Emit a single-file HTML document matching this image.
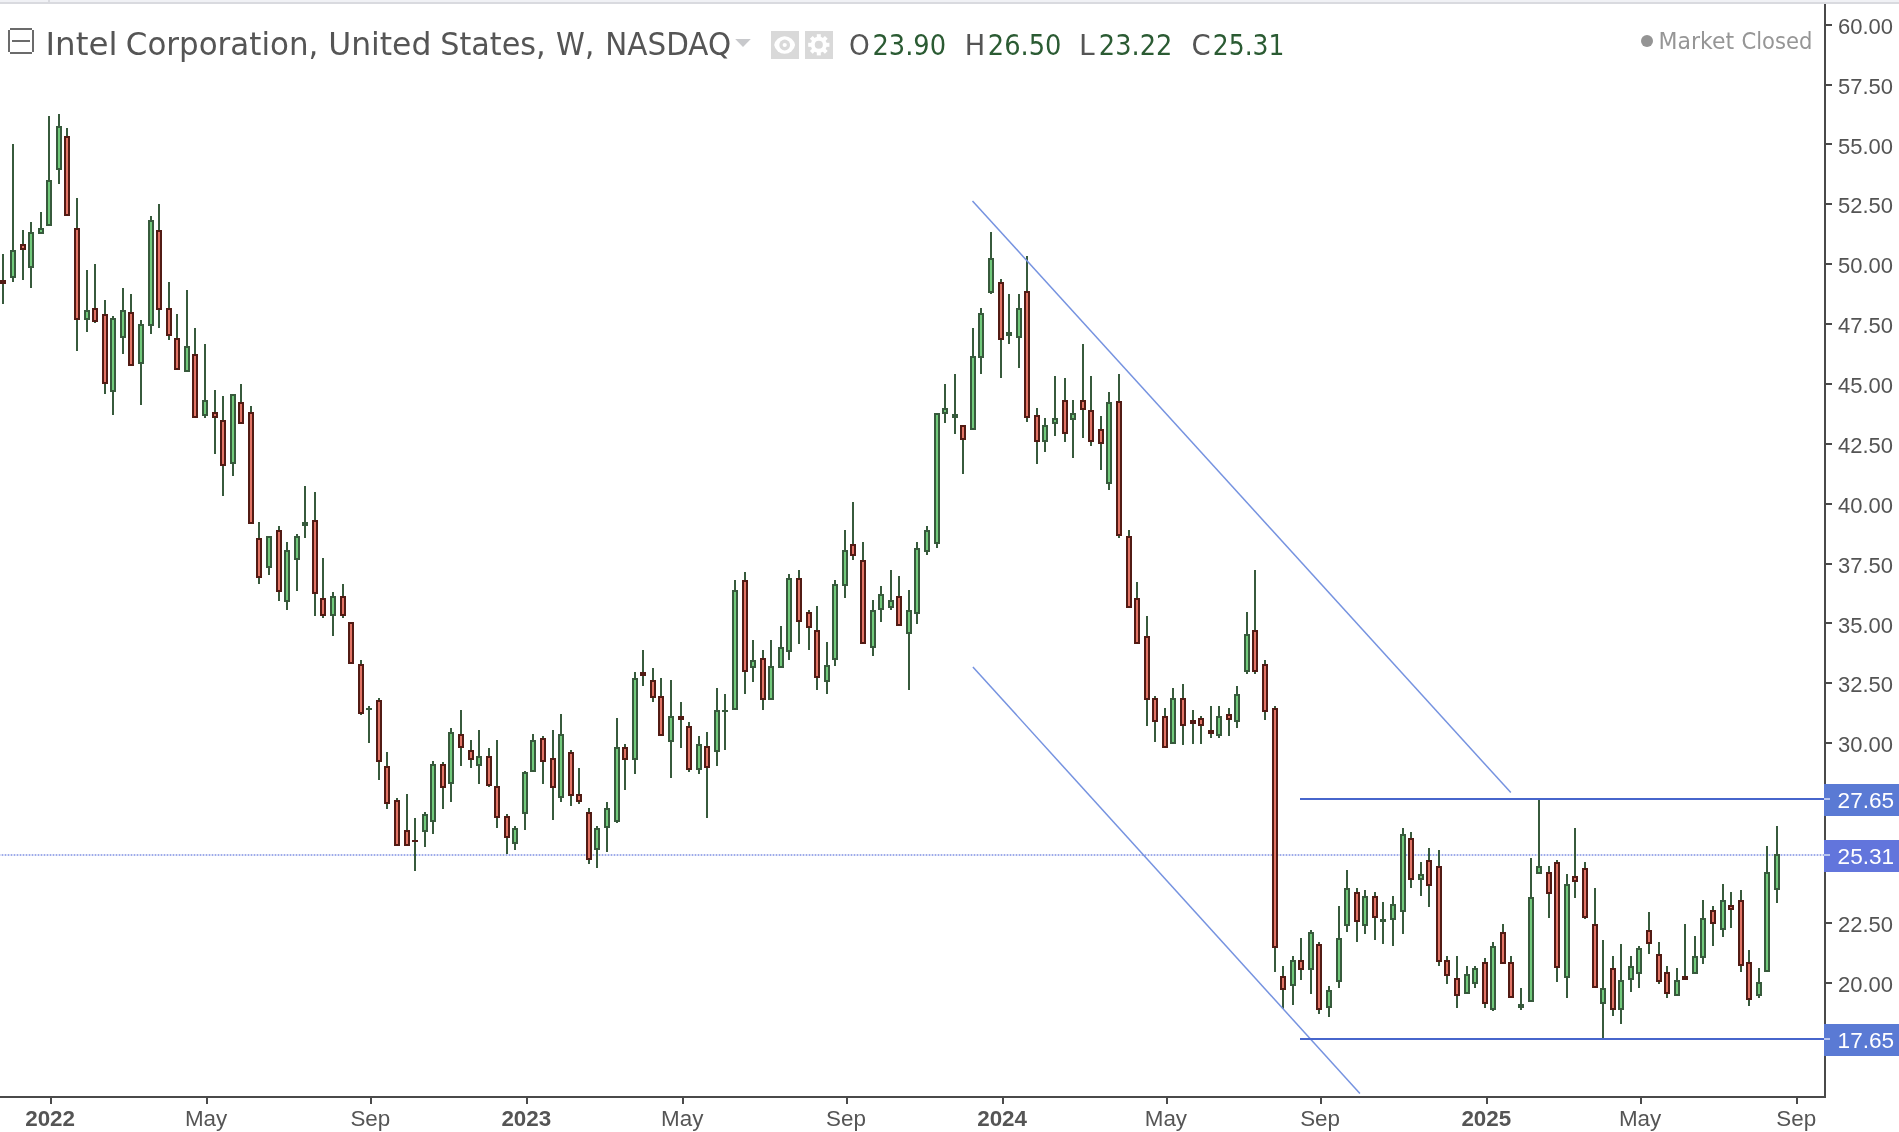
<!DOCTYPE html>
<html><head><meta charset="utf-8"><title>Intel Corporation, W, NASDAQ</title>
<style>
html,body{margin:0;padding:0;background:#fff;width:1899px;height:1132px;overflow:hidden;position:relative}
.top{position:absolute;left:0;top:0;width:1899px;height:2px;background:#f0f1f5}
.top2{position:absolute;left:0;top:2px;width:1899px;height:2px;background:#d9dadf}
.sep{position:absolute;left:48px;top:0;width:2px;height:2px;background:#dadbe0}
svg{position:absolute;left:0;top:0;will-change:transform}
.legend{position:absolute;left:0;top:0;height:80px;white-space:nowrap}
.dot{position:absolute;left:1641px;top:35px;width:12px;height:12px;border-radius:50%;background:#949494}
</style></head><body>
<div class="top"></div><div class="top2"></div><div class="sep"></div>
<svg width="1899" height="1132" viewBox="0 0 1899 1132">
<rect x="0" y="854" width="1824" height="2" fill="#dce1f7"/>
<line x1="0" y1="855" x2="1824" y2="855" stroke="#9eabea" stroke-width="2" stroke-dasharray="1 2" stroke-dashoffset="1"/>
<g shape-rendering="crispEdges"><g fill="#375a3c"><rect x="2" y="254" width="2" height="50"/><rect x="12" y="144" width="2" height="138"/><rect x="22" y="230" width="2" height="50"/><rect x="30" y="222" width="2" height="66"/><rect x="40" y="212" width="2" height="22"/><rect x="48" y="116" width="2" height="110"/><rect x="58" y="114" width="2" height="70"/><rect x="66" y="128" width="2" height="88"/><rect x="76" y="198" width="2" height="153"/><rect x="86" y="270" width="2" height="62"/><rect x="94" y="264" width="2" height="59"/><rect x="104" y="300" width="2" height="94"/><rect x="112" y="316" width="2" height="99"/><rect x="122" y="288" width="2" height="66"/><rect x="130" y="294" width="2" height="72"/><rect x="140" y="320" width="2" height="85"/><rect x="150" y="216" width="2" height="118"/><rect x="158" y="204" width="2" height="124"/><rect x="168" y="282" width="2" height="58"/><rect x="176" y="314" width="2" height="56"/><rect x="186" y="290" width="2" height="82"/><rect x="194" y="328" width="2" height="90"/><rect x="204" y="344" width="2" height="74"/><rect x="214" y="390" width="2" height="64"/><rect x="222" y="396" width="2" height="100"/><rect x="232" y="394" width="2" height="82"/><rect x="240" y="384" width="2" height="40"/><rect x="250" y="406" width="2" height="118"/><rect x="258" y="522" width="2" height="62"/><rect x="268" y="536" width="2" height="39"/><rect x="278" y="526" width="2" height="75"/><rect x="286" y="542" width="2" height="68"/><rect x="296" y="534" width="2" height="57"/><rect x="304" y="486" width="2" height="52"/><rect x="314" y="492" width="2" height="124"/><rect x="322" y="558" width="2" height="60"/><rect x="332" y="592" width="2" height="44"/><rect x="342" y="584" width="2" height="34"/><rect x="350" y="622" width="2" height="42"/><rect x="360" y="660" width="2" height="55"/><rect x="368" y="706" width="2" height="37"/><rect x="378" y="698" width="2" height="82"/><rect x="386" y="752" width="2" height="57"/><rect x="396" y="798" width="2" height="48"/><rect x="406" y="794" width="2" height="52"/><rect x="414" y="818" width="2" height="53"/><rect x="424" y="812" width="2" height="35"/><rect x="432" y="761" width="2" height="73"/><rect x="442" y="762" width="2" height="47"/><rect x="450" y="728" width="2" height="74"/><rect x="460" y="710" width="2" height="56"/><rect x="470" y="740" width="2" height="28"/><rect x="478" y="730" width="2" height="54"/><rect x="488" y="748" width="2" height="39"/><rect x="496" y="740" width="2" height="88"/><rect x="506" y="814" width="2" height="40"/><rect x="514" y="826" width="2" height="24"/><rect x="524" y="771" width="2" height="59"/><rect x="532" y="734" width="2" height="38"/><rect x="542" y="736" width="2" height="48"/><rect x="552" y="730" width="2" height="90"/><rect x="560" y="714" width="2" height="88"/><rect x="570" y="750" width="2" height="56"/><rect x="578" y="768" width="2" height="36"/><rect x="588" y="808" width="2" height="56"/><rect x="596" y="826" width="2" height="42"/><rect x="606" y="802" width="2" height="50"/><rect x="616" y="718" width="2" height="105"/><rect x="624" y="744" width="2" height="46"/><rect x="634" y="672" width="2" height="102"/><rect x="642" y="650" width="2" height="36"/><rect x="652" y="668" width="2" height="34"/><rect x="660" y="678" width="2" height="58"/><rect x="670" y="680" width="2" height="98"/><rect x="680" y="702" width="2" height="46"/><rect x="688" y="722" width="2" height="50"/><rect x="698" y="736" width="2" height="38"/><rect x="706" y="732" width="2" height="86"/><rect x="716" y="688" width="2" height="78"/><rect x="724" y="694" width="2" height="56"/><rect x="734" y="580" width="2" height="130"/><rect x="744" y="572" width="2" height="122"/><rect x="752" y="640" width="2" height="42"/><rect x="762" y="650" width="2" height="60"/><rect x="770" y="640" width="2" height="60"/><rect x="780" y="626" width="2" height="42"/><rect x="788" y="574" width="2" height="86"/><rect x="798" y="570" width="2" height="74"/><rect x="808" y="610" width="2" height="40"/><rect x="816" y="606" width="2" height="84"/><rect x="826" y="642" width="2" height="52"/><rect x="834" y="580" width="2" height="86"/><rect x="844" y="530" width="2" height="68"/><rect x="852" y="502" width="2" height="58"/><rect x="862" y="542" width="2" height="102"/><rect x="872" y="600" width="2" height="56"/><rect x="880" y="586" width="2" height="36"/><rect x="890" y="570" width="2" height="40"/><rect x="898" y="576" width="2" height="50"/><rect x="908" y="590" width="2" height="100"/><rect x="916" y="542" width="2" height="82"/><rect x="926" y="526" width="2" height="29"/><rect x="936" y="413" width="2" height="135"/><rect x="944" y="384" width="2" height="39"/><rect x="954" y="374" width="2" height="60"/><rect x="962" y="425" width="2" height="49"/><rect x="972" y="328" width="2" height="102"/><rect x="980" y="308" width="2" height="66"/><rect x="990" y="232" width="2" height="62"/><rect x="1000" y="279" width="2" height="99"/><rect x="1008" y="294" width="2" height="50"/><rect x="1018" y="294" width="2" height="74"/><rect x="1026" y="256" width="2" height="166"/><rect x="1036" y="408" width="2" height="56"/><rect x="1044" y="418" width="2" height="34"/><rect x="1054" y="376" width="2" height="60"/><rect x="1064" y="378" width="2" height="64"/><rect x="1072" y="400" width="2" height="58"/><rect x="1082" y="344" width="2" height="94"/><rect x="1090" y="376" width="2" height="70"/><rect x="1100" y="416" width="2" height="54"/><rect x="1108" y="392" width="2" height="98"/><rect x="1118" y="374" width="2" height="164"/><rect x="1128" y="530" width="2" height="78"/><rect x="1136" y="582" width="2" height="62"/><rect x="1146" y="616" width="2" height="110"/><rect x="1154" y="696" width="2" height="46"/><rect x="1164" y="708" width="2" height="40"/><rect x="1172" y="688" width="2" height="56"/><rect x="1182" y="684" width="2" height="61"/><rect x="1192" y="710" width="2" height="34"/><rect x="1200" y="716" width="2" height="28"/><rect x="1210" y="706" width="2" height="32"/><rect x="1218" y="706" width="2" height="32"/><rect x="1228" y="708" width="2" height="28"/><rect x="1236" y="686" width="2" height="42"/><rect x="1246" y="612" width="2" height="62"/><rect x="1254" y="570" width="2" height="104"/><rect x="1264" y="660" width="2" height="60"/><rect x="1274" y="706" width="2" height="266"/><rect x="1282" y="966" width="2" height="43"/><rect x="1292" y="956" width="2" height="49"/><rect x="1300" y="938" width="2" height="42"/><rect x="1310" y="930" width="2" height="64"/><rect x="1318" y="942" width="2" height="72"/><rect x="1328" y="986" width="2" height="31"/><rect x="1338" y="906" width="2" height="82"/><rect x="1346" y="870" width="2" height="62"/><rect x="1356" y="888" width="2" height="54"/><rect x="1364" y="890" width="2" height="44"/><rect x="1374" y="892" width="2" height="48"/><rect x="1382" y="902" width="2" height="42"/><rect x="1392" y="896" width="2" height="50"/><rect x="1402" y="828" width="2" height="106"/><rect x="1410" y="832" width="2" height="56"/><rect x="1420" y="862" width="2" height="34"/><rect x="1428" y="848" width="2" height="59"/><rect x="1438" y="850" width="2" height="116"/><rect x="1446" y="956" width="2" height="28"/><rect x="1456" y="956" width="2" height="52"/><rect x="1466" y="966" width="2" height="28"/><rect x="1474" y="966" width="2" height="22"/><rect x="1484" y="958" width="2" height="50"/><rect x="1492" y="942" width="2" height="69"/><rect x="1502" y="924" width="2" height="40"/><rect x="1510" y="956" width="2" height="42"/><rect x="1520" y="988" width="2" height="22"/><rect x="1530" y="858" width="2" height="144"/><rect x="1538" y="800" width="2" height="74"/><rect x="1548" y="866" width="2" height="52"/><rect x="1556" y="860" width="2" height="122"/><rect x="1566" y="874" width="2" height="124"/><rect x="1574" y="828" width="2" height="70"/><rect x="1584" y="862" width="2" height="57"/><rect x="1594" y="888" width="2" height="100"/><rect x="1602" y="940" width="2" height="98"/><rect x="1612" y="956" width="2" height="60"/><rect x="1620" y="944" width="2" height="80"/><rect x="1630" y="956" width="2" height="36"/><rect x="1638" y="946" width="2" height="42"/><rect x="1648" y="912" width="2" height="42"/><rect x="1658" y="942" width="2" height="42"/><rect x="1666" y="966" width="2" height="32"/><rect x="1676" y="968" width="2" height="28"/><rect x="1684" y="924" width="2" height="56"/><rect x="1694" y="936" width="2" height="38"/><rect x="1702" y="900" width="2" height="64"/><rect x="1712" y="906" width="2" height="40"/><rect x="1722" y="884" width="2" height="53"/><rect x="1730" y="892" width="2" height="36"/><rect x="1740" y="890" width="2" height="82"/><rect x="1748" y="950" width="2" height="56"/><rect x="1758" y="968" width="2" height="30"/><rect x="1766" y="846" width="2" height="126"/><rect x="1776" y="826" width="2" height="77"/></g><g><rect x="0" y="280" width="6" height="4" fill="#521b14"/><rect x="10" y="250" width="6" height="28" fill="#375a3c"/><rect x="12" y="252" width="2" height="24" fill="#72ca7c"/><rect x="20" y="244" width="6" height="6" fill="#521b14"/><rect x="22" y="246" width="2" height="2" fill="#e27466"/><rect x="28" y="232" width="6" height="36" fill="#375a3c"/><rect x="30" y="234" width="2" height="32" fill="#72ca7c"/><rect x="38" y="228" width="6" height="6" fill="#375a3c"/><rect x="40" y="230" width="2" height="2" fill="#72ca7c"/><rect x="46" y="180" width="6" height="46" fill="#375a3c"/><rect x="48" y="182" width="2" height="42" fill="#72ca7c"/><rect x="56" y="126" width="6" height="44" fill="#375a3c"/><rect x="58" y="128" width="2" height="40" fill="#72ca7c"/><rect x="64" y="136" width="6" height="80" fill="#521b14"/><rect x="66" y="138" width="2" height="76" fill="#e27466"/><rect x="74" y="228" width="6" height="92" fill="#521b14"/><rect x="76" y="230" width="2" height="88" fill="#e27466"/><rect x="84" y="310" width="6" height="10" fill="#375a3c"/><rect x="86" y="312" width="2" height="6" fill="#72ca7c"/><rect x="92" y="308" width="6" height="14" fill="#521b14"/><rect x="94" y="310" width="2" height="10" fill="#e27466"/><rect x="102" y="314" width="6" height="70" fill="#521b14"/><rect x="104" y="316" width="2" height="66" fill="#e27466"/><rect x="110" y="318" width="6" height="74" fill="#375a3c"/><rect x="112" y="320" width="2" height="70" fill="#72ca7c"/><rect x="120" y="310" width="6" height="28" fill="#375a3c"/><rect x="122" y="312" width="2" height="24" fill="#72ca7c"/><rect x="128" y="312" width="6" height="54" fill="#521b14"/><rect x="130" y="314" width="2" height="50" fill="#e27466"/><rect x="138" y="324" width="6" height="40" fill="#375a3c"/><rect x="140" y="326" width="2" height="36" fill="#72ca7c"/><rect x="148" y="220" width="6" height="106" fill="#375a3c"/><rect x="150" y="222" width="2" height="102" fill="#72ca7c"/><rect x="156" y="230" width="6" height="80" fill="#521b14"/><rect x="158" y="232" width="2" height="76" fill="#e27466"/><rect x="166" y="308" width="6" height="28" fill="#521b14"/><rect x="168" y="310" width="2" height="24" fill="#e27466"/><rect x="174" y="338" width="6" height="32" fill="#521b14"/><rect x="176" y="340" width="2" height="28" fill="#e27466"/><rect x="184" y="346" width="6" height="26" fill="#375a3c"/><rect x="186" y="348" width="2" height="22" fill="#72ca7c"/><rect x="192" y="354" width="6" height="64" fill="#521b14"/><rect x="194" y="356" width="2" height="60" fill="#e27466"/><rect x="202" y="400" width="6" height="16" fill="#375a3c"/><rect x="204" y="402" width="2" height="12" fill="#72ca7c"/><rect x="212" y="412" width="6" height="6" fill="#521b14"/><rect x="214" y="414" width="2" height="2" fill="#e27466"/><rect x="220" y="420" width="6" height="46" fill="#521b14"/><rect x="222" y="422" width="2" height="42" fill="#e27466"/><rect x="230" y="394" width="6" height="70" fill="#375a3c"/><rect x="232" y="396" width="2" height="66" fill="#72ca7c"/><rect x="238" y="402" width="6" height="22" fill="#521b14"/><rect x="240" y="404" width="2" height="18" fill="#e27466"/><rect x="248" y="412" width="6" height="112" fill="#521b14"/><rect x="250" y="414" width="2" height="108" fill="#e27466"/><rect x="256" y="538" width="6" height="40" fill="#521b14"/><rect x="258" y="540" width="2" height="36" fill="#e27466"/><rect x="266" y="536" width="6" height="32" fill="#375a3c"/><rect x="268" y="538" width="2" height="28" fill="#72ca7c"/><rect x="276" y="530" width="6" height="62" fill="#521b14"/><rect x="278" y="532" width="2" height="58" fill="#e27466"/><rect x="284" y="550" width="6" height="52" fill="#375a3c"/><rect x="286" y="552" width="2" height="48" fill="#72ca7c"/><rect x="294" y="536" width="6" height="24" fill="#375a3c"/><rect x="296" y="538" width="2" height="20" fill="#72ca7c"/><rect x="302" y="522" width="6" height="4" fill="#375a3c"/><rect x="312" y="520" width="6" height="74" fill="#521b14"/><rect x="314" y="522" width="2" height="70" fill="#e27466"/><rect x="320" y="598" width="6" height="18" fill="#521b14"/><rect x="322" y="600" width="2" height="14" fill="#e27466"/><rect x="330" y="596" width="6" height="20" fill="#375a3c"/><rect x="332" y="598" width="2" height="16" fill="#72ca7c"/><rect x="340" y="596" width="6" height="20" fill="#521b14"/><rect x="342" y="598" width="2" height="16" fill="#e27466"/><rect x="348" y="622" width="6" height="42" fill="#521b14"/><rect x="350" y="624" width="2" height="38" fill="#e27466"/><rect x="358" y="664" width="6" height="50" fill="#521b14"/><rect x="360" y="666" width="2" height="46" fill="#e27466"/><rect x="366" y="708" width="6" height="2" fill="#375a3c"/><rect x="376" y="700" width="6" height="62" fill="#521b14"/><rect x="378" y="702" width="2" height="58" fill="#e27466"/><rect x="384" y="766" width="6" height="38" fill="#521b14"/><rect x="386" y="768" width="2" height="34" fill="#e27466"/><rect x="394" y="800" width="6" height="46" fill="#521b14"/><rect x="396" y="802" width="2" height="42" fill="#e27466"/><rect x="404" y="830" width="6" height="16" fill="#521b14"/><rect x="406" y="832" width="2" height="12" fill="#e27466"/><rect x="412" y="840" width="6" height="2" fill="#521b14"/><rect x="422" y="814" width="6" height="18" fill="#375a3c"/><rect x="424" y="816" width="2" height="14" fill="#72ca7c"/><rect x="430" y="764" width="6" height="58" fill="#375a3c"/><rect x="432" y="766" width="2" height="54" fill="#72ca7c"/><rect x="440" y="764" width="6" height="24" fill="#521b14"/><rect x="442" y="766" width="2" height="20" fill="#e27466"/><rect x="448" y="732" width="6" height="52" fill="#375a3c"/><rect x="450" y="734" width="2" height="48" fill="#72ca7c"/><rect x="458" y="734" width="6" height="14" fill="#521b14"/><rect x="460" y="736" width="2" height="10" fill="#e27466"/><rect x="468" y="750" width="6" height="10" fill="#521b14"/><rect x="470" y="752" width="2" height="6" fill="#e27466"/><rect x="476" y="756" width="6" height="10" fill="#375a3c"/><rect x="478" y="758" width="2" height="6" fill="#72ca7c"/><rect x="486" y="756" width="6" height="30" fill="#521b14"/><rect x="488" y="758" width="2" height="26" fill="#e27466"/><rect x="494" y="786" width="6" height="32" fill="#521b14"/><rect x="496" y="788" width="2" height="28" fill="#e27466"/><rect x="504" y="816" width="6" height="22" fill="#521b14"/><rect x="506" y="818" width="2" height="18" fill="#e27466"/><rect x="512" y="828" width="6" height="16" fill="#375a3c"/><rect x="514" y="830" width="2" height="12" fill="#72ca7c"/><rect x="522" y="772" width="6" height="42" fill="#375a3c"/><rect x="524" y="774" width="2" height="38" fill="#72ca7c"/><rect x="530" y="740" width="6" height="32" fill="#375a3c"/><rect x="532" y="742" width="2" height="28" fill="#72ca7c"/><rect x="540" y="738" width="6" height="24" fill="#521b14"/><rect x="542" y="740" width="2" height="20" fill="#e27466"/><rect x="550" y="758" width="6" height="30" fill="#521b14"/><rect x="552" y="760" width="2" height="26" fill="#e27466"/><rect x="558" y="734" width="6" height="64" fill="#375a3c"/><rect x="560" y="736" width="2" height="60" fill="#72ca7c"/><rect x="568" y="752" width="6" height="44" fill="#521b14"/><rect x="570" y="754" width="2" height="40" fill="#e27466"/><rect x="576" y="794" width="6" height="8" fill="#521b14"/><rect x="578" y="796" width="2" height="4" fill="#e27466"/><rect x="586" y="812" width="6" height="48" fill="#521b14"/><rect x="588" y="814" width="2" height="44" fill="#e27466"/><rect x="594" y="828" width="6" height="22" fill="#375a3c"/><rect x="596" y="830" width="2" height="18" fill="#72ca7c"/><rect x="604" y="808" width="6" height="20" fill="#375a3c"/><rect x="606" y="810" width="2" height="16" fill="#72ca7c"/><rect x="614" y="747" width="6" height="75" fill="#375a3c"/><rect x="616" y="749" width="2" height="71" fill="#72ca7c"/><rect x="622" y="747" width="6" height="13" fill="#521b14"/><rect x="624" y="749" width="2" height="9" fill="#e27466"/><rect x="632" y="678" width="6" height="82" fill="#375a3c"/><rect x="634" y="680" width="2" height="78" fill="#72ca7c"/><rect x="640" y="672" width="6" height="4" fill="#521b14"/><rect x="650" y="680" width="6" height="18" fill="#521b14"/><rect x="652" y="682" width="2" height="14" fill="#e27466"/><rect x="658" y="696" width="6" height="40" fill="#521b14"/><rect x="660" y="698" width="2" height="36" fill="#e27466"/><rect x="668" y="716" width="6" height="26" fill="#375a3c"/><rect x="670" y="718" width="2" height="22" fill="#72ca7c"/><rect x="678" y="716" width="6" height="4" fill="#521b14"/><rect x="686" y="726" width="6" height="44" fill="#521b14"/><rect x="688" y="728" width="2" height="40" fill="#e27466"/><rect x="696" y="744" width="6" height="26" fill="#375a3c"/><rect x="698" y="746" width="2" height="22" fill="#72ca7c"/><rect x="704" y="746" width="6" height="22" fill="#521b14"/><rect x="706" y="748" width="2" height="18" fill="#e27466"/><rect x="714" y="710" width="6" height="42" fill="#375a3c"/><rect x="716" y="712" width="2" height="38" fill="#72ca7c"/><rect x="722" y="710" width="6" height="2" fill="#375a3c"/><rect x="732" y="590" width="6" height="120" fill="#375a3c"/><rect x="734" y="592" width="2" height="116" fill="#72ca7c"/><rect x="742" y="580" width="6" height="92" fill="#521b14"/><rect x="744" y="582" width="2" height="88" fill="#e27466"/><rect x="750" y="660" width="6" height="8" fill="#375a3c"/><rect x="752" y="662" width="2" height="4" fill="#72ca7c"/><rect x="760" y="658" width="6" height="42" fill="#521b14"/><rect x="762" y="660" width="2" height="38" fill="#e27466"/><rect x="768" y="666" width="6" height="34" fill="#375a3c"/><rect x="770" y="668" width="2" height="30" fill="#72ca7c"/><rect x="778" y="647" width="6" height="21" fill="#375a3c"/><rect x="780" y="649" width="2" height="17" fill="#72ca7c"/><rect x="786" y="578" width="6" height="74" fill="#375a3c"/><rect x="788" y="580" width="2" height="70" fill="#72ca7c"/><rect x="796" y="578" width="6" height="44" fill="#521b14"/><rect x="798" y="580" width="2" height="40" fill="#e27466"/><rect x="806" y="612" width="6" height="16" fill="#521b14"/><rect x="808" y="614" width="2" height="12" fill="#e27466"/><rect x="814" y="630" width="6" height="48" fill="#521b14"/><rect x="816" y="632" width="2" height="44" fill="#e27466"/><rect x="824" y="665" width="6" height="17" fill="#375a3c"/><rect x="826" y="667" width="2" height="13" fill="#72ca7c"/><rect x="832" y="584" width="6" height="76" fill="#375a3c"/><rect x="834" y="586" width="2" height="72" fill="#72ca7c"/><rect x="842" y="550" width="6" height="36" fill="#375a3c"/><rect x="844" y="552" width="2" height="32" fill="#72ca7c"/><rect x="850" y="544" width="6" height="12" fill="#521b14"/><rect x="852" y="546" width="2" height="8" fill="#e27466"/><rect x="860" y="560" width="6" height="84" fill="#521b14"/><rect x="862" y="562" width="2" height="80" fill="#e27466"/><rect x="870" y="610" width="6" height="38" fill="#375a3c"/><rect x="872" y="612" width="2" height="34" fill="#72ca7c"/><rect x="878" y="594" width="6" height="16" fill="#375a3c"/><rect x="880" y="596" width="2" height="12" fill="#72ca7c"/><rect x="888" y="600" width="6" height="8" fill="#375a3c"/><rect x="890" y="602" width="2" height="4" fill="#72ca7c"/><rect x="896" y="596" width="6" height="30" fill="#521b14"/><rect x="898" y="598" width="2" height="26" fill="#e27466"/><rect x="906" y="610" width="6" height="24" fill="#375a3c"/><rect x="908" y="612" width="2" height="20" fill="#72ca7c"/><rect x="914" y="548" width="6" height="66" fill="#375a3c"/><rect x="916" y="550" width="2" height="62" fill="#72ca7c"/><rect x="924" y="530" width="6" height="22" fill="#375a3c"/><rect x="926" y="532" width="2" height="18" fill="#72ca7c"/><rect x="934" y="413" width="6" height="131" fill="#375a3c"/><rect x="936" y="415" width="2" height="127" fill="#72ca7c"/><rect x="942" y="408" width="6" height="6" fill="#375a3c"/><rect x="944" y="410" width="2" height="2" fill="#72ca7c"/><rect x="952" y="414" width="6" height="4" fill="#375a3c"/><rect x="960" y="425" width="6" height="15" fill="#521b14"/><rect x="962" y="427" width="2" height="11" fill="#e27466"/><rect x="970" y="356" width="6" height="74" fill="#375a3c"/><rect x="972" y="358" width="2" height="70" fill="#72ca7c"/><rect x="978" y="313" width="6" height="45" fill="#375a3c"/><rect x="980" y="315" width="2" height="41" fill="#72ca7c"/><rect x="988" y="258" width="6" height="35" fill="#375a3c"/><rect x="990" y="260" width="2" height="31" fill="#72ca7c"/><rect x="998" y="282" width="6" height="58" fill="#521b14"/><rect x="1000" y="284" width="2" height="54" fill="#e27466"/><rect x="1006" y="332" width="6" height="4" fill="#375a3c"/><rect x="1016" y="308" width="6" height="30" fill="#375a3c"/><rect x="1018" y="310" width="2" height="26" fill="#72ca7c"/><rect x="1024" y="291" width="6" height="127" fill="#521b14"/><rect x="1026" y="293" width="2" height="123" fill="#e27466"/><rect x="1034" y="415" width="6" height="27" fill="#521b14"/><rect x="1036" y="417" width="2" height="23" fill="#e27466"/><rect x="1042" y="425" width="6" height="17" fill="#375a3c"/><rect x="1044" y="427" width="2" height="13" fill="#72ca7c"/><rect x="1052" y="418" width="6" height="6" fill="#375a3c"/><rect x="1054" y="420" width="2" height="2" fill="#72ca7c"/><rect x="1062" y="400" width="6" height="34" fill="#521b14"/><rect x="1064" y="402" width="2" height="30" fill="#e27466"/><rect x="1070" y="413" width="6" height="7" fill="#375a3c"/><rect x="1072" y="415" width="2" height="3" fill="#72ca7c"/><rect x="1080" y="400" width="6" height="10" fill="#521b14"/><rect x="1082" y="402" width="2" height="6" fill="#e27466"/><rect x="1088" y="410" width="6" height="32" fill="#521b14"/><rect x="1090" y="412" width="2" height="28" fill="#e27466"/><rect x="1098" y="429" width="6" height="15" fill="#521b14"/><rect x="1100" y="431" width="2" height="11" fill="#e27466"/><rect x="1106" y="402" width="6" height="82" fill="#375a3c"/><rect x="1108" y="404" width="2" height="78" fill="#72ca7c"/><rect x="1116" y="401" width="6" height="135" fill="#521b14"/><rect x="1118" y="403" width="2" height="131" fill="#e27466"/><rect x="1126" y="536" width="6" height="72" fill="#521b14"/><rect x="1128" y="538" width="2" height="68" fill="#e27466"/><rect x="1134" y="598" width="6" height="46" fill="#521b14"/><rect x="1136" y="600" width="2" height="42" fill="#e27466"/><rect x="1144" y="636" width="6" height="64" fill="#521b14"/><rect x="1146" y="638" width="2" height="60" fill="#e27466"/><rect x="1152" y="698" width="6" height="24" fill="#521b14"/><rect x="1154" y="700" width="2" height="20" fill="#e27466"/><rect x="1162" y="716" width="6" height="32" fill="#521b14"/><rect x="1164" y="718" width="2" height="28" fill="#e27466"/><rect x="1170" y="698" width="6" height="46" fill="#375a3c"/><rect x="1172" y="700" width="2" height="42" fill="#72ca7c"/><rect x="1180" y="698" width="6" height="28" fill="#521b14"/><rect x="1182" y="700" width="2" height="24" fill="#e27466"/><rect x="1190" y="720" width="6" height="4" fill="#521b14"/><rect x="1198" y="718" width="6" height="8" fill="#521b14"/><rect x="1200" y="720" width="2" height="4" fill="#e27466"/><rect x="1208" y="730" width="6" height="4" fill="#521b14"/><rect x="1216" y="716" width="6" height="20" fill="#375a3c"/><rect x="1218" y="718" width="2" height="16" fill="#72ca7c"/><rect x="1226" y="714" width="6" height="6" fill="#521b14"/><rect x="1228" y="716" width="2" height="2" fill="#e27466"/><rect x="1234" y="694" width="6" height="28" fill="#375a3c"/><rect x="1236" y="696" width="2" height="24" fill="#72ca7c"/><rect x="1244" y="634" width="6" height="38" fill="#375a3c"/><rect x="1246" y="636" width="2" height="34" fill="#72ca7c"/><rect x="1252" y="630" width="6" height="42" fill="#521b14"/><rect x="1254" y="632" width="2" height="38" fill="#e27466"/><rect x="1262" y="664" width="6" height="48" fill="#521b14"/><rect x="1264" y="666" width="2" height="44" fill="#e27466"/><rect x="1272" y="708" width="6" height="240" fill="#521b14"/><rect x="1274" y="710" width="2" height="236" fill="#e27466"/><rect x="1280" y="976" width="6" height="14" fill="#521b14"/><rect x="1282" y="978" width="2" height="10" fill="#e27466"/><rect x="1290" y="960" width="6" height="26" fill="#375a3c"/><rect x="1292" y="962" width="2" height="22" fill="#72ca7c"/><rect x="1298" y="960" width="6" height="10" fill="#521b14"/><rect x="1300" y="962" width="2" height="6" fill="#e27466"/><rect x="1308" y="932" width="6" height="38" fill="#375a3c"/><rect x="1310" y="934" width="2" height="34" fill="#72ca7c"/><rect x="1316" y="944" width="6" height="66" fill="#521b14"/><rect x="1318" y="946" width="2" height="62" fill="#e27466"/><rect x="1326" y="990" width="6" height="18" fill="#375a3c"/><rect x="1328" y="992" width="2" height="14" fill="#72ca7c"/><rect x="1336" y="938" width="6" height="44" fill="#375a3c"/><rect x="1338" y="940" width="2" height="40" fill="#72ca7c"/><rect x="1344" y="888" width="6" height="38" fill="#375a3c"/><rect x="1346" y="890" width="2" height="34" fill="#72ca7c"/><rect x="1354" y="892" width="6" height="30" fill="#521b14"/><rect x="1356" y="894" width="2" height="26" fill="#e27466"/><rect x="1362" y="896" width="6" height="30" fill="#375a3c"/><rect x="1364" y="898" width="2" height="26" fill="#72ca7c"/><rect x="1372" y="896" width="6" height="22" fill="#521b14"/><rect x="1374" y="898" width="2" height="18" fill="#e27466"/><rect x="1380" y="919" width="6" height="3" fill="#375a3c"/><rect x="1390" y="904" width="6" height="16" fill="#375a3c"/><rect x="1392" y="906" width="2" height="12" fill="#72ca7c"/><rect x="1400" y="834" width="6" height="78" fill="#375a3c"/><rect x="1402" y="836" width="2" height="74" fill="#72ca7c"/><rect x="1408" y="838" width="6" height="42" fill="#521b14"/><rect x="1410" y="840" width="2" height="38" fill="#e27466"/><rect x="1418" y="874" width="6" height="6" fill="#375a3c"/><rect x="1420" y="876" width="2" height="2" fill="#72ca7c"/><rect x="1426" y="860" width="6" height="26" fill="#521b14"/><rect x="1428" y="862" width="2" height="22" fill="#e27466"/><rect x="1436" y="866" width="6" height="96" fill="#521b14"/><rect x="1438" y="868" width="2" height="92" fill="#e27466"/><rect x="1444" y="960" width="6" height="16" fill="#521b14"/><rect x="1446" y="962" width="2" height="12" fill="#e27466"/><rect x="1454" y="978" width="6" height="18" fill="#521b14"/><rect x="1456" y="980" width="2" height="14" fill="#e27466"/><rect x="1464" y="974" width="6" height="20" fill="#375a3c"/><rect x="1466" y="976" width="2" height="16" fill="#72ca7c"/><rect x="1472" y="968" width="6" height="16" fill="#375a3c"/><rect x="1474" y="970" width="2" height="12" fill="#72ca7c"/><rect x="1482" y="962" width="6" height="42" fill="#521b14"/><rect x="1484" y="964" width="2" height="38" fill="#e27466"/><rect x="1490" y="946" width="6" height="64" fill="#375a3c"/><rect x="1492" y="948" width="2" height="60" fill="#72ca7c"/><rect x="1500" y="932" width="6" height="32" fill="#521b14"/><rect x="1502" y="934" width="2" height="28" fill="#e27466"/><rect x="1508" y="962" width="6" height="36" fill="#521b14"/><rect x="1510" y="964" width="2" height="32" fill="#e27466"/><rect x="1518" y="1004" width="6" height="4" fill="#375a3c"/><rect x="1528" y="897" width="6" height="105" fill="#375a3c"/><rect x="1530" y="899" width="2" height="101" fill="#72ca7c"/><rect x="1536" y="866" width="6" height="8" fill="#375a3c"/><rect x="1538" y="868" width="2" height="4" fill="#72ca7c"/><rect x="1546" y="872" width="6" height="22" fill="#521b14"/><rect x="1548" y="874" width="2" height="18" fill="#e27466"/><rect x="1554" y="862" width="6" height="106" fill="#521b14"/><rect x="1556" y="864" width="2" height="102" fill="#e27466"/><rect x="1564" y="884" width="6" height="94" fill="#375a3c"/><rect x="1566" y="886" width="2" height="90" fill="#72ca7c"/><rect x="1572" y="876" width="6" height="6" fill="#521b14"/><rect x="1574" y="878" width="2" height="2" fill="#e27466"/><rect x="1582" y="868" width="6" height="50" fill="#521b14"/><rect x="1584" y="870" width="2" height="46" fill="#e27466"/><rect x="1592" y="924" width="6" height="64" fill="#521b14"/><rect x="1594" y="926" width="2" height="60" fill="#e27466"/><rect x="1600" y="988" width="6" height="16" fill="#375a3c"/><rect x="1602" y="990" width="2" height="12" fill="#72ca7c"/><rect x="1610" y="968" width="6" height="42" fill="#521b14"/><rect x="1612" y="970" width="2" height="38" fill="#e27466"/><rect x="1618" y="980" width="6" height="30" fill="#375a3c"/><rect x="1620" y="982" width="2" height="26" fill="#72ca7c"/><rect x="1628" y="966" width="6" height="14" fill="#375a3c"/><rect x="1630" y="968" width="2" height="10" fill="#72ca7c"/><rect x="1636" y="948" width="6" height="26" fill="#375a3c"/><rect x="1638" y="950" width="2" height="22" fill="#72ca7c"/><rect x="1646" y="930" width="6" height="14" fill="#521b14"/><rect x="1648" y="932" width="2" height="10" fill="#e27466"/><rect x="1656" y="954" width="6" height="28" fill="#521b14"/><rect x="1658" y="956" width="2" height="24" fill="#e27466"/><rect x="1664" y="972" width="6" height="22" fill="#521b14"/><rect x="1666" y="974" width="2" height="18" fill="#e27466"/><rect x="1674" y="980" width="6" height="16" fill="#375a3c"/><rect x="1676" y="982" width="2" height="12" fill="#72ca7c"/><rect x="1682" y="976" width="6" height="4" fill="#521b14"/><rect x="1692" y="956" width="6" height="18" fill="#375a3c"/><rect x="1694" y="958" width="2" height="14" fill="#72ca7c"/><rect x="1700" y="918" width="6" height="40" fill="#375a3c"/><rect x="1702" y="920" width="2" height="36" fill="#72ca7c"/><rect x="1710" y="910" width="6" height="14" fill="#521b14"/><rect x="1712" y="912" width="2" height="10" fill="#e27466"/><rect x="1720" y="900" width="6" height="30" fill="#375a3c"/><rect x="1722" y="902" width="2" height="26" fill="#72ca7c"/><rect x="1728" y="905" width="6" height="5" fill="#521b14"/><rect x="1730" y="907" width="2" height="1" fill="#e27466"/><rect x="1738" y="900" width="6" height="66" fill="#521b14"/><rect x="1740" y="902" width="2" height="62" fill="#e27466"/><rect x="1746" y="962" width="6" height="38" fill="#521b14"/><rect x="1748" y="964" width="2" height="34" fill="#e27466"/><rect x="1756" y="982" width="6" height="14" fill="#375a3c"/><rect x="1758" y="984" width="2" height="10" fill="#72ca7c"/><rect x="1764" y="872" width="6" height="100" fill="#375a3c"/><rect x="1766" y="874" width="2" height="96" fill="#72ca7c"/><rect x="1774" y="854" width="6" height="36" fill="#375a3c"/><rect x="1776" y="856" width="2" height="32" fill="#72ca7c"/></g></g>
<g stroke="#7693e0" stroke-width="1.5" fill="none">
<line x1="972.5" y1="200.9" x2="1510.8" y2="792.6"/>
<line x1="972.9" y1="667.0" x2="1359.9" y2="1093.5"/>
</g>
<g fill="#4766cc" shape-rendering="crispEdges">
<rect x="1300" y="798" width="524" height="2"/>
<rect x="1300" y="1038" width="524" height="2"/>
</g>
<g fill="#4a4a4a" shape-rendering="crispEdges">
<rect x="1824" y="4" width="2" height="1094"/>
<rect x="0" y="1096" width="1826" height="2"/>
<rect x="1826" y="24" width="6" height="2"/><rect x="1826" y="84" width="6" height="2"/><rect x="1826" y="143" width="6" height="2"/><rect x="1826" y="203" width="6" height="2"/><rect x="1826" y="263" width="6" height="2"/><rect x="1826" y="323" width="6" height="2"/><rect x="1826" y="383" width="6" height="2"/><rect x="1826" y="443" width="6" height="2"/><rect x="1826" y="503" width="6" height="2"/><rect x="1826" y="563" width="6" height="2"/><rect x="1826" y="622" width="6" height="2"/><rect x="1826" y="682" width="6" height="2"/><rect x="1826" y="742" width="6" height="2"/><rect x="1826" y="922" width="6" height="2"/><rect x="1826" y="982" width="6" height="2"/>
<rect x="50" y="1098" width="2" height="6"/><rect x="206" y="1098" width="2" height="6"/><rect x="370" y="1098" width="2" height="6"/><rect x="526" y="1098" width="2" height="6"/><rect x="682" y="1098" width="2" height="6"/><rect x="846" y="1098" width="2" height="6"/><rect x="1002" y="1098" width="2" height="6"/><rect x="1166" y="1098" width="2" height="6"/><rect x="1320" y="1098" width="2" height="6"/><rect x="1486" y="1098" width="2" height="6"/><rect x="1640" y="1098" width="2" height="6"/><rect x="1796" y="1098" width="2" height="6"/>
</g>
<g font-family="Liberation Sans, Arial, sans-serif" font-size="22" fill="#545454">
<text x="1838" y="33.8">60.00</text><text x="1838" y="93.7">57.50</text><text x="1838" y="153.5">55.00</text><text x="1838" y="213.4">52.50</text><text x="1838" y="273.3">50.00</text><text x="1838" y="333.2">47.50</text><text x="1838" y="393.1">45.00</text><text x="1838" y="452.9">42.50</text><text x="1838" y="512.8">40.00</text><text x="1838" y="572.7">37.50</text><text x="1838" y="632.6">35.00</text><text x="1838" y="692.4">32.50</text><text x="1838" y="752.3">30.00</text><text x="1838" y="931.9">22.50</text><text x="1838" y="991.8">20.00</text>
</g>
<g font-family="Liberation Sans, Arial, sans-serif" font-size="22.4" fill="#555" text-anchor="middle">
<text x="50.1" y="1126.2" font-weight="bold">2022</text><text x="206.1" y="1126.2">May</text><text x="370.3" y="1126.2">Sep</text><text x="526.3" y="1126.2" font-weight="bold">2023</text><text x="682.2" y="1126.2">May</text><text x="846.0" y="1126.2">Sep</text><text x="1002.1" y="1126.2" font-weight="bold">2024</text><text x="1165.9" y="1126.2">May</text><text x="1320.1" y="1126.2">Sep</text><text x="1486.3" y="1126.2" font-weight="bold">2025</text><text x="1640.1" y="1126.2">May</text><text x="1796.2" y="1126.2">Sep</text>
</g>
<rect x="1824" y="784" width="75" height="32" fill="#5a7ad4"/>
<rect x="1824" y="840" width="75" height="32" fill="#6275dc"/>
<rect x="1824" y="1024" width="75" height="32" fill="#5a7ad4"/>
<g fill="#b9c5ef" shape-rendering="crispEdges">
<rect x="1824" y="798" width="6" height="2"/>
<rect x="1824" y="854" width="6" height="2"/>
<rect x="1824" y="1038" width="6" height="2"/>
</g>
<g font-family="Liberation Sans, Arial, sans-serif" font-size="22.6" fill="#fff">
<text x="1837.6" y="808.2">27.65</text>
<text x="1837.6" y="864.2">25.31</text>
<text x="1837.6" y="1048.2">17.65</text>
</g>
</svg>
<div class="legend">
<svg width="1899" height="80" style="position:absolute;left:0;top:0"><g fill="#6b6b6b" shape-rendering="crispEdges">
<rect x="10" y="28" width="22" height="2"/><rect x="10" y="52" width="22" height="2"/>
<rect x="8" y="30" width="2" height="22"/><rect x="32" y="30" width="2" height="22"/>
<rect x="12" y="40" width="18" height="2"/></g>
<path d="M735.2 39 L750.8 39 L743 47 Z" fill="#c8c9cc"/>
<rect x="771" y="31" width="28" height="28" fill="#d9d9d9"/>
<path d="M774.2 45 A10.6 10.6 0 0 1 795.1 45 A10.6 10.6 0 0 1 774.2 45 Z" fill="#fff"/>
<circle cx="784.7" cy="45" r="5.4" fill="#d9d9d9"/><circle cx="784.7" cy="45" r="2.1" fill="#fff"/>
<rect x="805" y="31" width="28" height="28" fill="#d9d9d9"/>
<g fill="#fff" transform="translate(818.8,44.8)">
<circle r="8"/>
<rect x="-2" y="-10.6" width="4" height="21.2"/>
<rect x="-2" y="-10.6" width="4" height="21.2" transform="rotate(45)"/>
<rect x="-2" y="-10.6" width="4" height="21.2" transform="rotate(90)"/>
<rect x="-2" y="-10.6" width="4" height="21.2" transform="rotate(135)"/>
</g>
<circle cx="818.8" cy="44.8" r="4.05" fill="#d9d9d9"/>
<text transform="translate(45.47,54.90) scale(0.9973,1)" font-family="DejaVu Sans, Liberation Sans, sans-serif" font-size="32.60" fill="#555">Intel</text><text transform="translate(125.85,54.90) scale(0.9488,1)" font-family="DejaVu Sans, Liberation Sans, sans-serif" font-size="32.60" fill="#555">Corporation,</text><text transform="translate(328.19,54.90) scale(0.9631,1)" font-family="DejaVu Sans, Liberation Sans, sans-serif" font-size="32.60" fill="#555">United</text><text transform="translate(440.18,54.90) scale(0.9281,1)" font-family="DejaVu Sans, Liberation Sans, sans-serif" font-size="32.60" fill="#555">States,</text><text transform="translate(556.12,54.90) scale(0.8953,1)" font-family="DejaVu Sans, Liberation Sans, sans-serif" font-size="32.60" fill="#555">W,</text><text transform="translate(605.35,54.90) scale(0.9026,1)" font-family="DejaVu Sans, Liberation Sans, sans-serif" font-size="32.60" fill="#555">NASDAQ</text><text transform="translate(848.98,54.70) scale(0.9347,1)" font-family="DejaVu Sans, Liberation Sans, sans-serif" font-size="28.22" fill="#555">O</text><text transform="translate(872.40,54.70) scale(0.9124,1)" font-family="DejaVu Sans, Liberation Sans, sans-serif" font-size="28.22" fill="#2b5b33">23.90</text><text transform="translate(964.75,54.70) scale(0.9636,1)" font-family="DejaVu Sans, Liberation Sans, sans-serif" font-size="28.22" fill="#555">H</text><text transform="translate(987.80,54.70) scale(0.9124,1)" font-family="DejaVu Sans, Liberation Sans, sans-serif" font-size="28.22" fill="#2b5b33">26.50</text><text transform="translate(1079.07,54.70) scale(0.9952,1)" font-family="DejaVu Sans, Liberation Sans, sans-serif" font-size="28.22" fill="#555">L</text><text transform="translate(1098.80,54.70) scale(0.9107,1)" font-family="DejaVu Sans, Liberation Sans, sans-serif" font-size="28.22" fill="#2b5b33">23.22</text><text transform="translate(1191.42,54.70) scale(0.9745,1)" font-family="DejaVu Sans, Liberation Sans, sans-serif" font-size="28.22" fill="#555">C</text><text transform="translate(1212.85,54.70) scale(0.8864,1)" font-family="DejaVu Sans, Liberation Sans, sans-serif" font-size="28.22" fill="#2b5b33">25.31</text><text transform="translate(1658.52,48.60) scale(0.9739,1)" font-family="DejaVu Sans, Liberation Sans, sans-serif" font-size="22.60" fill="#969696">Market</text><text transform="translate(1741.44,48.60) scale(0.9345,1)" font-family="DejaVu Sans, Liberation Sans, sans-serif" font-size="22.60" fill="#969696">Closed</text></svg>
<div class="dot"></div>
</div>
</body></html>
